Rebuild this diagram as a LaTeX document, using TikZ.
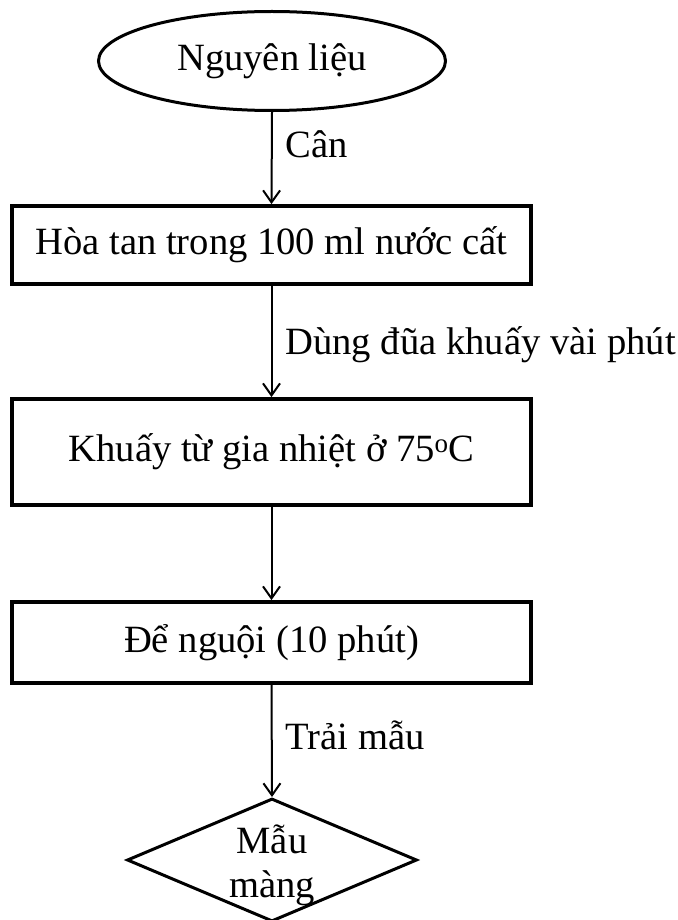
\documentclass[tikz,border=0pt]{standalone}
\usepackage{fontspec}
\setmainfont{Liberation Serif}
\usetikzlibrary{arrows.meta,shapes.geometric}

\tikzset{
  txt/.style={font=\fontsize{38.6}{44}\selectfont},
  procbox/.style={txt, draw, line width=3.8pt, minimum width=519pt, inner sep=0pt},
  startnode/.style={txt, draw, ellipse, line width=3pt, minimum width=347pt, minimum height=99pt, inner sep=0pt},
  endnode/.style={draw, diamond, line width=3pt, minimum width=290pt, minimum height=123pt, inner sep=0pt},
  flow/.style={line width=2pt, -{Straight Barb[length=12pt, width=17pt, line width=2pt]}},
  steplabel/.style={txt, anchor=west, inner sep=0pt, xshift=13pt},
}

\begin{document}
\begin{tikzpicture}[x=1pt, y=-1pt]
  \useasboundingbox (0,0) rectangle (677,920);

  % process stages, top to bottom
  \node[startnode] (raw) at (272,61) {Nguyên liệu};
  \node[procbox, minimum height=78pt] (dissolve) at (271.5,245) {Hòa tan trong 100 ml nước cất};
  \node[procbox, minimum height=106pt] (heat) at (271.5,452) {Khuấy từ gia nhiệt ở 75\textsuperscript{o}C};
  \node[procbox, minimum height=81pt] (cool) at (271.5,642.5) {Để nguội (10 phút)};
  \node[endnode] (film) at (272,860) {};
  \node[txt, align=center, inner sep=0pt] (filmtext) at (272,865) {Mẫu\\màng};

  % connectors with their step labels
  \draw[flow] (raw.south) -- node[steplabel, pos=0.35] (weigh) {Cân} (dissolve.north);
  \draw[flow] (dissolve.south) -- node[steplabel, pos=0.53] (stir) {Dùng đũa khuấy vài phút} (heat.north);
  \draw[flow] (heat.south) -- (cool.north);
  \draw[flow] (cool.south) -- node[steplabel, pos=0.45] (spread) {Trải mẫu} (film.north);
\end{tikzpicture}
\end{document}
